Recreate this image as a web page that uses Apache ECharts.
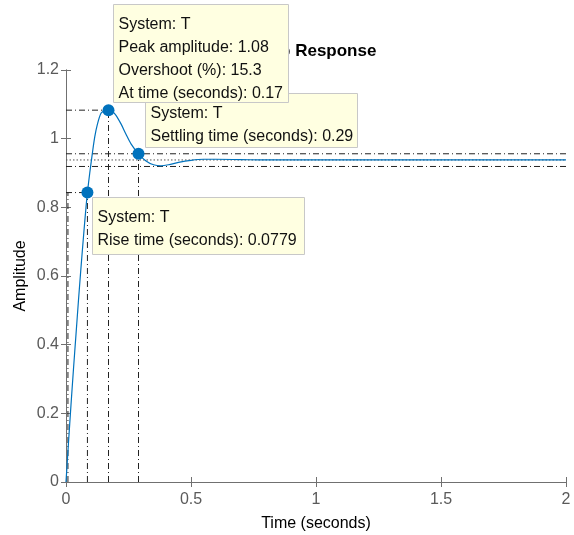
<!DOCTYPE html>
<html>
<head>
<meta charset="utf-8">
<script src="https://cdn.jsdelivr.net/npm/echarts@6/dist/echarts.min.js"></script>
<style>
html,body{margin:0;padding:0;background:#fff;}
#main{width:574px;height:535px;}
</style>
</head>
<body>
<div id="main"></div>
<script>
// step response
var timeData = [0, 0.01, 0.02, 0.03, 0.04, 0.05, 0.06, 0.07, 0.08, 0.0857, 0.095, 0.105, 0.115, 0.125, 0.14, 0.155, 0.17, 0.185, 0.2, 0.22, 0.24, 0.26, 0.29, 0.32, 0.35, 0.38, 0.41, 0.45, 0.5, 0.55, 0.6, 0.7, 0.8, 1.0, 1.5, 2.0];
var ampData = [0, 0.115, 0.225, 0.33, 0.43, 0.53, 0.625, 0.715, 0.8, 0.843, 0.9, 0.955, 1.005, 1.04, 1.074, 1.081, 1.083, 1.079, 1.068, 1.043, 1.013, 0.985, 0.956, 0.935, 0.924, 0.921, 0.924, 0.931, 0.937, 0.940, 0.940, 0.939, 0.938, 0.938, 0.938, 0.938];

// characteristics
var finalValue = 0.938;
var settleBand = [0.956, 0.919];
var riseStart = 0.0078, riseEnd = 0.0857, riseAmp = 0.843;
var peakTime = 0.17, peakAmp = 1.083;
var settleTime = 0.29, settleAmp = 0.956;

var xTicks = ['0', '0.5', '1', '1.5', '2'];
var yTicks = ['0', '0.2', '0.4', '0.6', '0.8', '1', '1.2'];

var tipLines = {
	peak: ['System: T', 'Peak amplitude: 1.08', 'Overshoot (%): 15.3', 'At time (seconds): 0.17'],
	settle: ['System: T', 'Settling time (seconds): 0.29'],
	rise: ['System: T', 'Rise time (seconds): 0.0779']
};

var curve = timeData.map(function(t, i){ return [t, ampData[i]]; });
var fontFam = '"Liberation Sans", Arial, Helvetica, sans-serif';
var blue = '#0072BD';
var dashDot = {color: '#222', width: 1, type: [6, 3, 1, 3]};

function refLine(points, style){
	return {
		type: 'line', data: points, symbol: 'none', silent: true,
		lineStyle: style, z: 1, animation: false
	};
}

function tipBox(x, y, w, h, lines, z){
	return {
		type: 'group', left: x, top: y, z: z,
		children: [
			{type: 'rect', shape: {x: 0, y: 0, width: w, height: h},
				style: {fill: '#ffffe1', stroke: '#c8c8c8', lineWidth: 1}, z: z},
			{type: 'text', x: 5, y: 9, z: z,
				style: {text: lines.join('\n'), font: '16px ' + fontFam, fill: '#111', lineHeight: 23}}
		]
	};
}

var chart = echarts.init(document.getElementById('main'), null, {renderer: 'canvas'});
var axisColor = '#707070';
var labelColor = '#5a5a5a';

chart.setOption({
	animation: false,
	title: {
		text: 'Step Response', left: 315, top: 43, padding: 0, textAlign: 'center',
		textStyle: {fontFamily: fontFam, fontSize: 17, fontWeight: 'bold', color: '#000'}
	},
	grid: {left: 66, right: 8, top: 70, bottom: 53, outerBoundsMode: 'none'},
	xAxis: [{
		type: 'value', min: 0, max: 2, interval: 0.5,
		name: 'Time (seconds)', nameLocation: 'middle', nameGap: 34, nameMoveOverlap: false,
		nameTextStyle: {fontFamily: fontFam, fontSize: 16, color: '#000'},
		axisLine: {lineStyle: {color: axisColor}},
		axisTick: {inside: true, length: 5, lineStyle: {color: axisColor}},
		axisLabel: {fontFamily: fontFam, fontSize: 16, color: labelColor, margin: 10,
			formatter: function(v){ return xTicks[Math.round(v / 0.5)]; }},
		splitLine: {show: false}
	}, {
		type: 'value', min: 0, max: 2, interval: 0.5, position: 'top',
		axisLine: {lineStyle: {color: axisColor}},
		axisTick: {inside: true, length: 5, lineStyle: {color: axisColor}},
		axisLabel: {show: false}, splitLine: {show: false}
	}],
	yAxis: [{
		type: 'value', min: 0, max: 1.2, interval: 0.2,
		name: 'Amplitude', nameLocation: 'middle', nameGap: 37, nameMoveOverlap: false,
		nameTextStyle: {fontFamily: fontFam, fontSize: 16, color: '#000'},
		axisLine: {show: true, lineStyle: {color: axisColor}},
		axisTick: {show: true, inside: true, length: 5, lineStyle: {color: axisColor}},
		axisLabel: {fontFamily: fontFam, fontSize: 16, color: labelColor, margin: 7,
			formatter: function(v){ return yTicks[Math.round(v / 0.2)]; }},
		splitLine: {show: false}
	}, {
		type: 'value', min: 0, max: 1.2, interval: 0.2, position: 'right',
		axisLine: {show: true, lineStyle: {color: axisColor}},
		axisTick: {show: true, inside: true, length: 5, lineStyle: {color: axisColor}},
		axisLabel: {show: false}, splitLine: {show: false}
	}],
	series: [
		// final value and settling band
		refLine([[0, finalValue], [2, finalValue]], {color: '#555', width: 1, type: [1.5, 2]}),
		refLine([[0, settleBand[0]], [2, settleBand[0]]], dashDot),
		refLine([[0, settleBand[1]], [2, settleBand[1]]], dashDot),
		// rise time
		refLine([[0, riseAmp], [riseEnd, riseAmp]], dashDot),
		refLine([[riseStart, 0], [riseStart, riseAmp]], dashDot),
		refLine([[riseEnd, 0], [riseEnd, riseAmp]], dashDot),
		// peak
		refLine([[0, peakAmp], [peakTime, peakAmp]], dashDot),
		refLine([[peakTime, 0], [peakTime, peakAmp]], dashDot),
		// settling
		refLine([[settleTime, 0], [settleTime, settleAmp]], dashDot),
		{
			type: 'line', data: curve, smooth: 0.3, symbol: 'none', z: 3,
			lineStyle: {color: blue, width: 1.2}
		},
		{
			type: 'scatter', z: 4, symbolSize: 12,
			itemStyle: {color: blue, opacity: 1},
			data: [[riseEnd, riseAmp], [peakTime, peakAmp], [settleTime, settleAmp]]
		}
	],
	graphic: [
		tipBox(92, 197, 212, 57, tipLines.rise, 100),
		tipBox(145, 93, 212, 54, tipLines.settle, 101),
		tipBox(113, 4, 175, 98, tipLines.peak, 102)
	]
});
</script>
</body>
</html>
